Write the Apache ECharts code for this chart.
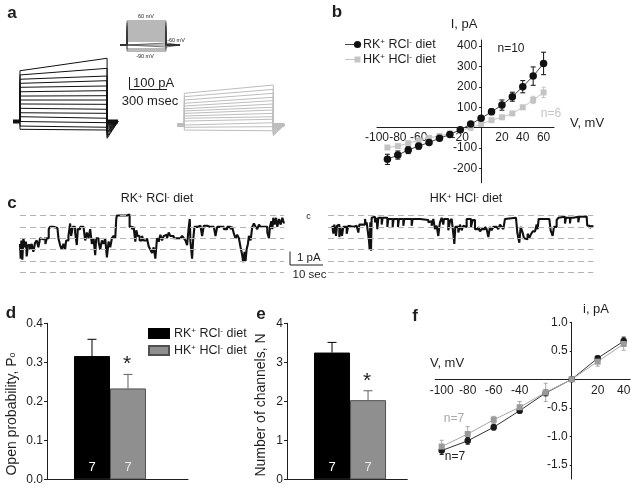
<!DOCTYPE html>
<html>
<head>
<meta charset="utf-8">
<script src="https://cdn.jsdelivr.net/npm/echarts@6/dist/echarts.min.js"></script>
<style>
html,body{margin:0;padding:0;background:#fff}
#fig{width:636px;height:488px}
</style>
</head>
<body>
<div id="fig"></div>
<script>
// ---- a: whole-cell current families, pA relative to holding (-60 mV)
var aStepTimes = [-64, 0, 800, 900];          // ms: holding, step on, step off, tail end
var aRKStart = [423,388,352,318,285,248,212,179,146,110,73,40,-2,-38,-65];
var aRKEnd   = [527,443,379,340,296,257,215,179,143,102,68,27,-10,-48,-71];
var aRKTail  = [-140,-125,-110,-95,-85,-72,-62,-52,-42,-34,-26,-18,-12,-8,-5];
var aHKStart = [264,236,208,181,158,136,117,97,75,56,33,8,-19,-42];
var aHKEnd   = [333,297,264,231,203,175,148,125,97,69,48,19,-14,-48];
var aHKTail  = [-90,-80,-70,-62,-55,-48,-40,-34,-28,-22,-16,-10,-6,-4];
// voltage protocol (mV), relative step duration
var protocolMv = [-90,-80,-70,-60,-50,-40,-30,-20,-10,0,10,20,30,40,50,60];
var protocolHold = -60;
var protocolTimes = [-0.18, 0, 1, 1.36];

// ---- b: I-V, pA
var bVoltage = [-90,-80,-70,-60,-50,-40,-30,-20,-10,0,10,20,30,40,50,60];
var bRK    = [-155,-134,-109,-90,-72,-52,-33,-10,18,46,78,111,152,201,253,315];
var bRKerr = [25,20,18,15,10,8,8,5,5,8,14,25,22,30,45,55];
var bHK    = [-97,-90,-76,-62,-50,-40,-28,-12,0,18,37,51,70,100,136,173];
var bHKerr = [8,8,8,7,6,6,5,5,5,5,6,8,8,10,18,25];
var bXTicks = [-100,-80,-60,-20,20,40,60];
var bYTicks = [-200,-100,100,200,300,400];

// ---- c: single channel traces, [time (1/12 s), level in open-channel units]
var cLevels = [0,-1,-2,-3,-4,-5];
var cTraceRK = [[60,-2.5],[62,-3.8],[64,-2.2],[67,-3.9],[70,-2.0],[75,-2.8],[78,-2.3],[80,-3.6],[84,-2.6],[90,-3.0],[95,-2.5],[100,-3.2],[105,-2.4],[110,-2.2],[115,-2.8],[120,-2.0],[125,-2.1],[130,-2.0],[136,-2.5],[140,-2.0],[146,-1.2],[150,-1.0],[160,-1.1],[172,-1.0],[175,-2.0],[180,-2.6],[185,-3.0],[190,-2.5],[195,-3.0],[198,-2.2],[205,-1.8],[210,-0.7],[213,-1.8],[218,-1.0],[225,-1.5],[230,-2.6],[233,-1.2],[240,-1.0],[250,-1.0],[255,-2.2],[260,-1.5],[265,-2.0],[270,-1.2],[275,-2.5],[280,-2.0],[285,-3.5],[288,-2.0],[295,-2.3],[300,-3.0],[305,-2.2],[310,-2.5],[315,-2.0],[320,-3.7],[325,-2.3],[330,-2.8],[335,-2.0],[340,-1.8],[345,-2.0],[348,-0.3],[350,0],[380,0],[385,0.1],[388,-1.0],[395,-1.2],[400,-1.0],[405,-2.3],[408,-1.3],[412,-1.8],[418,-2.2],[425,-1.8],[430,-2.2],[440,-2.0],[445,-2.7],[450,-3.0],[455,-3.3],[460,-2.8],[465,-3.8],[470,-2.0],[475,-2.3],[480,-1.7],[485,-2.2],[490,-1.8],[495,-1.7],[500,-2.0],[505,-1.5],[510,-1.8],[520,-2.0],[530,-2.0],[540,-2.1],[545,-1.8],[550,-2.0],[555,-2.2],[560,-2.6],[565,-1.0],[568,-0.3],[570,-2.3],[575,-3.8],[578,-2.2],[582,-1.0],[590,-0.9],[600,-1.0],[605,-1.8],[610,-0.9],[620,-1.0],[630,-1.0],[640,-1.0],[645,-1.8],[650,-1.0],[660,-1.0],[670,-1.2],[680,-1.0],[690,-1.2],[695,-1.0],[700,-1.6],[705,-2.0],[710,-1.7],[715,-2.0],[720,-2.8],[725,-3.5],[728,-4.1],[732,-3.2],[735,-4.0],[738,-3.0],[742,-2.5],[745,-1.8],[750,-2.2],[755,-1.0],[760,-0.7],[765,-1.0],[770,-1.2],[775,-0.8],[780,-1.0],[790,-1.0],[800,-1.5],[805,-2.0],[808,-1.0],[812,-0.5],[815,-1.2],[818,-0.2],[822,-0.8],[826,-0.2],[830,-1.0],[835,-0.3],[840,-0.8],[845,-0.2],[850,-0.7]];
var cTraceHK = [[97,-0.9],[100,-1.6],[103,-0.8],[108,-1.8],[111,-0.9],[115,-0.8],[118,-1.9],[121,-1.0],[126,-1.8],[130,-1.0],[135,-1.0],[140,-1.6],[145,-0.9],[150,-1.0],[160,-0.9],[170,-0.8],[175,-1.5],[178,-0.8],[185,-0.7],[190,-0.8],[195,-0.3],[198,-0.8],[200,-0.6],[205,-0.5],[207,-2.2],[209,-3.0],[211,-0.6],[213,-3.1],[215,-0.2],[220,-0.1],[225,-0.6],[230,-0.2],[232,-1.2],[235,-0.2],[245,-0.8],[248,-0.2],[262,-1.0],[265,-0.3],[278,-1.0],[281,-0.3],[294,-1.0],[297,-0.3],[310,-0.9],[313,-0.3],[335,-0.9],[338,-0.3],[360,-0.4],[385,-0.6],[390,-0.5],[395,-0.9],[400,-0.3],[405,-1.2],[410,-0.9],[415,-1.8],[418,-1.0],[420,-0.6],[425,-0.2],[430,-0.8],[432,-0.3],[445,-1.3],[450,-0.5],[455,-0.3],[460,-1.6],[463,-2.5],[466,-1.0],[475,-1.5],[480,-0.8],[485,-1.3],[490,-0.9],[495,-1.0],[500,-0.3],[513,-1.0],[518,-0.4],[525,-1.2],[535,-1.0],[540,-1.4],[545,-1.2],[555,-1.0],[560,-1.2],[565,-1.9],[570,-1.0],[575,-1.3],[580,-1.0],[590,-1.0],[595,-1.2],[600,-0.8],[605,-1.0],[610,-1.2],[615,-0.3],[620,-0.2],[648,-0.3],[652,-1.5],[658,-2.4],[662,-1.0],[668,-1.5],[672,-2.0],[678,-2.1],[683,-1.6],[688,-2.0],[692,-1.7],[698,-1.4],[705,-1.5],[710,-0.8],[713,-1.2],[716,-0.3],[748,-0.3],[752,-1.3],[758,-1.8],[762,-1.0],[770,-0.4],[775,-0.2],[780,-0.1],[795,-0.7],[798,-0.2],[810,-0.7],[812,-0.2],[820,-0.1],[835,-0.6],[838,-0.1],[860,-0.2],[862,-0.9],[870,-1.1],[875,-0.9],[880,-1.0]];

// ---- d, e: bar summaries
var barSlots = [1, 2];
var dPo = [0.316, 0.233];
var dPoErr = [0.043, 0.036];
var eN = [3.25, 2.03];
var eNErr = [0.26, 0.24];
var nCells = [7, 7];

// ---- f: single channel i-V, pA
var fVoltage = [-100,-80,-60,-40,-20,0,20,40];
var fRK    = [-1.25,-1.08,-0.84,-0.55,-0.24,0,0.37,0.67];
var fRKerr = [0.07,0.06,0.05,0.04,0.05,0.02,0.04,0.07];
var fHK    = [-1.18,-0.96,-0.71,-0.49,-0.23,0,0.31,0.62];
var fHKerr = [0.11,0.13,0.06,0.1,0.16,0.02,0.08,0.11];
var fXTicks = [-100,-80,-60,-40,20,40];
var fYTicks = [-1.5,-1,-0.5,0.5,1];

var FONT = "'Liberation Sans', Arial, sans-serif";
var INK = '#1e1e1e';
var LIGHT = '#c4c4c4';
var BARGRAY = '#8f8f8f';

var grids = [
  {left: 13, top: 55.5, width: 105, height: 90},        // a RK family
  {left: 177.2, top: 59, width: 107.2, height: 90},     // a HK family
  {left: 120, top: 21, width: 60, height: 30},          // a protocol
  {left: 377, top: 40, width: 177, height: 142.8},      // b
  {left: 20, top: 211, width: 264, height: 65.8},       // c RK
  {left: 328, top: 211, width: 265.3, height: 65.8},    // c HK
  {left: 47, top: 323.3, width: 141, height: 156},      // d
  {left: 287, top: 323.3, width: 120.3, height: 156},   // e
  {left: 435.2, top: 322.3, width: 195, height: 156.75} // f
];

var chart = echarts.init(document.getElementById('fig'));

function diet(k, cl) {
  return '{n|' + k + '}{s|+}{n| ' + cl + '}{s|-}{n| diet}';
}
function dietRich(size, color) {
  return {
    n: {fontSize: size, fontFamily: FONT, color: color, fill: color},
    s: {fontSize: Math.round(size * 0.62), fontFamily: FONT, color: color, fill: color, verticalAlign: 'top'}
  };
}

function hidden(gi, min, max) {
  return {gridIndex: gi, type: 'value', min: min, max: max, show: false};
}
function shownAxis(gi, min, max, extra) {
  var ax = {
    gridIndex: gi, type: 'value', min: min, max: max,
    axisLine: {show: true, onZero: false, lineStyle: {color: INK, width: 1}},
    axisTick: {show: false},
    splitLine: {show: false},
    axisLabel: {color: INK, fontSize: 12, fontFamily: FONT, margin: 4}
  };
  for (var k in extra) ax[k] = extra[k];
  return ax;
}
// crossing axes: shift the axis from the grid edge to the other axis' zero
function xOffsetToZero(gi, ymin, ymax) {
  return -grids[gi].height * (0 - ymin) / (ymax - ymin);
}
function yOffsetToZero(gi, xmin, xmax) {
  return -grids[gi].width * (0 - xmin) / (xmax - xmin);
}

function errBars(gi, xs, lo, hi, color, cap, bottomCap) {
  return {
    type: 'custom', xAxisIndex: gi, yAxisIndex: gi, silent: true, z: 3, clip: false,
    data: xs.map(function (x, i) { return [x, lo[i], hi[i]]; }),
    renderItem: function (params, api) {
      var p1 = api.coord([api.value(0), api.value(1)]);
      var p2 = api.coord([api.value(0), api.value(2)]);
      var h = cap / 2;
      var st = {stroke: color, lineWidth: 1};
      var kids = [
        {type: 'line', shape: {x1: p1[0], y1: p1[1], x2: p2[0], y2: p2[1]}, style: st},
        {type: 'line', shape: {x1: p2[0] - h, y1: p2[1], x2: p2[0] + h, y2: p2[1]}, style: st}
      ];
      if (bottomCap) kids.push({type: 'line', shape: {x1: p1[0] - h, y1: p1[1], x2: p1[0] + h, y2: p1[1]}, style: st});
      return {type: 'group', children: kids};
    }
  };
}
function minus(v, e) { return v.map(function (x, i) { return x - e[i]; }); }
function plus(v, e) { return v.map(function (x, i) { return x + e[i]; }); }

// current family traces
function family(starts, ends, tails, color, gi) {
  var out = starts.map(function (s, i) {
    return {
      type: 'line', xAxisIndex: gi, yAxisIndex: gi, symbol: 'none', silent: true, clip: false,
      lineStyle: {color: color, width: 1},
      data: [[aStepTimes[0], 0], [aStepTimes[1], 0], [aStepTimes[1], s],
             [aStepTimes[2], ends[i]], [aStepTimes[2], tails[i]], [aStepTimes[3], 0]]
    };
  });
  [[aStepTimes[0], aStepTimes[1]], [aStepTimes[2], aStepTimes[3]]].forEach(function (seg) {
    out.push({
      type: 'line', xAxisIndex: gi, yAxisIndex: gi, symbol: 'none', silent: true, clip: false,
      lineStyle: {color: color, width: 4},
      data: [[seg[0], 0], [seg[1], 0]]
    });
  });
  return out;
}

var series = [];
series = series.concat(family(aRKStart, aRKEnd, aRKTail, '#111', 0));
series = series.concat(family(aHKStart, aHKEnd, aHKTail, '#bdbdbd', 1));
protocolMv.forEach(function (v) {
  series.push({
    type: 'line', xAxisIndex: 2, yAxisIndex: 2, symbol: 'none', silent: true, clip: false,
    lineStyle: {color: '#333', width: 0.7},
    data: [[protocolTimes[0], protocolHold], [protocolTimes[1], protocolHold], [protocolTimes[1], v],
           [protocolTimes[2], v], [protocolTimes[2], protocolHold], [protocolTimes[3], protocolHold]]
  });
});

// b
series.push(errBars(3, bVoltage, minus(bHK, bHKerr), plus(bHK, bHKerr), LIGHT, 4, true));
series.push({
  type: 'line', name: 'bHK', xAxisIndex: 3, yAxisIndex: 3, symbol: 'rect', symbolSize: 6,
  itemStyle: {color: LIGHT}, lineStyle: {color: LIGHT, width: 1},
  data: bVoltage.map(function (v, i) { return [v, bHK[i]]; })
});
series.push(errBars(3, bVoltage, minus(bRK, bRKerr), plus(bRK, bRKerr), '#111', 5, true));
series.push({
  type: 'line', name: 'bRK', xAxisIndex: 3, yAxisIndex: 3, symbol: 'circle', symbolSize: 7.5,
  itemStyle: {color: '#111'}, lineStyle: {color: '#444', width: 1},
  data: bVoltage.map(function (v, i) { return [v, bRK[i]]; })
});

// c
[[4, cTraceRK], [5, cTraceHK]].forEach(function (c) {
  series.push({
    type: 'line', xAxisIndex: c[0], yAxisIndex: c[0], data: [], silent: true, z: 1,
    markLine: {
      silent: true, symbol: 'none', label: {show: false},
      lineStyle: {color: '#b3b3b3', type: [6, 4], width: 1.2},
      data: cLevels.map(function (v) { return {yAxis: v}; })
    }
  });
  series.push({
    type: 'line', xAxisIndex: c[0], yAxisIndex: c[0], data: c[1], step: 'end', symbol: 'none',
    silent: true, clip: false, z: 2, lineStyle: {color: '#111', width: 2.1}
  });
});

// d, e
function bars(gi, vals, errs, withName) {
  var cols = ['#000', BARGRAY];
  var borders = ['#000', '#505050'];
  var labCols = ['#fff', '#e8e8e8'];
  var names = ['dRK', 'dHK'];
  var out = [];
  vals.forEach(function (v, i) {
    out.push({
      type: 'bar', name: withName ? names[i] : undefined, xAxisIndex: gi, yAxisIndex: gi,
      barWidth: 36, barGap: '-100%',
      itemStyle: {color: cols[i], borderColor: borders[i], borderWidth: 1},
      label: {show: true, position: 'insideBottom', distance: 5, color: labCols[i], fontSize: 13,
              fontFamily: FONT, formatter: String(nCells[i])},
      data: [[barSlots[i], v]]
    });
  });
  out.push(errBars(gi, [barSlots[0]], [vals[0]], [vals[0] + errs[0]], '#000', 9, false));
  out.push(errBars(gi, [barSlots[1]], [vals[1]], [vals[1] + errs[1]], '#606060', 9, false));
  return out;
}
series = series.concat(bars(6, dPo, dPoErr, true));
series = series.concat(bars(7, eN, eNErr, false));

// f
series.push(errBars(8, fVoltage, minus(fHK, fHKerr), plus(fHK, fHKerr), '#a8a8a8', 4, true));
series.push(errBars(8, fVoltage, minus(fRK, fRKerr), plus(fRK, fRKerr), '#222', 4, true));
series.push({
  type: 'line', xAxisIndex: 8, yAxisIndex: 8, symbol: 'circle', symbolSize: 6.5,
  itemStyle: {color: '#1a1a1a'}, lineStyle: {color: '#333', width: 1},
  data: fVoltage.map(function (v, i) { return [v, fRK[i]]; })
});
series.push({
  type: 'line', xAxisIndex: 8, yAxisIndex: 8, symbol: 'rect', symbolSize: 6,
  itemStyle: {color: '#9a9a9a'}, lineStyle: {color: '#a8a8a8', width: 1},
  data: fVoltage.map(function (v, i) { return [v, fHK[i]]; })
});

function txt(x, y, text, size, o) {
  o = o || {};
  return {
    type: 'text', x: x, y: y, rotation: o.rot || 0, silent: true, z: 10,
    style: {
      text: text, fontSize: size, fontFamily: FONT, fontWeight: o.bold ? 'bold' : 'normal',
      fill: o.color || INK, align: o.align || 'center', verticalAlign: 'middle', rich: o.rich
    }
  };
}
function seg(x1, y1, x2, y2, color, w) {
  return {type: 'line', silent: true, z: 10, shape: {x1: x1, y1: y1, x2: x2, y2: y2},
          style: {stroke: color || INK, lineWidth: w || 1}};
}

var graphics = [
  // panel letters
  txt(12, 13, 'a', 17, {bold: true}),
  txt(337, 12, 'b', 17, {bold: true}),
  txt(12, 203, 'c', 17, {bold: true}),
  txt(11, 313, 'd', 17, {bold: true}),
  txt(261, 314, 'e', 17, {bold: true}),
  txt(415, 316, 'f', 17, {bold: true}),
  // a: protocol labels and scale bar
  txt(146, 16, '60 mV', 5.5),
  txt(176, 40.7, '-60 mV', 5.5),
  txt(145, 56.7, '-90 mV', 5.5),
  seg(129.5, 77, 129.5, 89.5), seg(129.5, 89.5, 167, 89.5),
  txt(133, 83.5, '100 pA', 13, {align: 'left'}),
  txt(150, 101, '300 msec', 13),
  // b: axis names, n, legend
  txt(464, 24, 'I, pA', 13),
  txt(587, 123, 'V, mV', 13),
  txt(511, 49, 'n=10', 12),
  txt(551, 114, 'n=6', 12, {color: LIGHT}),
  seg(345, 44.5, 357, 44.5, '#444'),
  {type: 'circle', silent: true, z: 10, shape: {cx: 357.5, cy: 44.5, r: 3.6}, style: {fill: '#111'}},
  txt(363, 44.5, diet('RK', 'RCl'), 12.5, {align: 'left', rich: dietRich(12.5, INK)}),
  seg(345, 59.5, 357, 59.5, LIGHT),
  {type: 'rect', silent: true, z: 10, shape: {x: 354.5, y: 56.5, width: 6, height: 6}, style: {fill: LIGHT}},
  txt(363, 59.5, diet('HK', 'HCl'), 12.5, {align: 'left', rich: dietRich(12.5, INK)}),
  // c: titles, closed mark, scale bar
  txt(157, 199, diet('RK', 'RCl'), 12.5, {rich: dietRich(12.5, INK)}),
  txt(466, 199, diet('HK', 'HCl'), 12.5, {rich: dietRich(12.5, INK)}),
  txt(308.5, 216.5, 'c', 9),
  seg(290, 251.5, 290, 265), seg(290, 265, 323, 265),
  txt(297, 258, '1 pA', 11.5, {align: 'left'}),
  txt(309.5, 274.5, '10 sec', 11.5),
  // d, e
  txt(12.5, 414, '{n|Open probability, P}{b|o}', 14, {rot: Math.PI / 2,
      rich: {n: {fontSize: 14, fontFamily: FONT, fill: INK}, b: {fontSize: 9, fontFamily: FONT, fill: INK}}}),
  txt(261, 405, 'Number of channels, N', 14, {rot: Math.PI / 2}),
  txt(127, 364, '*', 21),
  txt(367, 381, '*', 21),
  // f
  txt(596, 309, 'i, pA', 13),
  txt(447, 363, 'V, mV', 13),
  txt(454, 419, 'n=7', 12, {color: '#a8a8a8'}),
  txt(455, 457, 'n=7', 12)
];

var bX = [-100, 70], bY = [-270, 430];
var fX = [-105, 45], fY = [-1.75, 1.0];

var option = {
  animation: false,
  backgroundColor: '#fff',
  textStyle: {fontFamily: FONT},
  grid: grids.map(function (g) {
    return {left: g.left, top: g.top, width: g.width, height: g.height, containLabel: false, outerBoundsMode: 'none'};
  }),
  xAxis: [
    hidden(0, -64, 900), hidden(1, -64, 900), hidden(2, -0.18, 1.36),
    shownAxis(3, bX[0], bX[1], {
      offset: xOffsetToZero(3, bY[0], bY[1]),
      axisLabel: {color: INK, fontSize: 12, fontFamily: FONT, margin: 4, customValues: bXTicks}
    }),
    hidden(4, 60, 850), hidden(5, 84, 880),
    shownAxis(6, -0.25, 3.667, {axisLabel: {show: false}}),
    shownAxis(7, -0.25, 3.09, {axisLabel: {show: false}}),
    shownAxis(8, fX[0], fX[1], {
      offset: xOffsetToZero(8, fY[0], fY[1]),
      axisLabel: {color: INK, fontSize: 12, fontFamily: FONT, margin: 5, customValues: fXTicks}
    })
  ],
  yAxis: [
    hidden(0, -200, 550), hidden(1, -200, 550), hidden(2, -90, 60),
    shownAxis(3, bY[0], bY[1], {
      offset: yOffsetToZero(3, bX[0], bX[1]),
      axisTick: {show: true, length: 2, customValues: bYTicks, lineStyle: {color: INK}},
      axisLabel: {color: INK, fontSize: 12, fontFamily: FONT, margin: 4, customValues: bYTicks}
    }),
    hidden(4, -5.4, 0.4), hidden(5, -5.4, 0.4),
    shownAxis(6, 0, 0.4, {
      interval: 0.1,
      axisTick: {show: true, length: 3, lineStyle: {color: INK}},
      axisLabel: {color: INK, fontSize: 12, fontFamily: FONT, margin: 4,
                  formatter: function (v) { return v.toFixed(1); }}
    }),
    shownAxis(7, 0, 4, {
      interval: 1,
      axisTick: {show: true, length: 3, lineStyle: {color: INK}},
      axisLabel: {color: INK, fontSize: 12, fontFamily: FONT, margin: 4}
    }),
    shownAxis(8, fY[0], fY[1], {
      offset: yOffsetToZero(8, fX[0], fX[1]),
      axisTick: {show: true, length: 2, customValues: fYTicks, lineStyle: {color: INK}},
      axisLabel: {color: INK, fontSize: 12, fontFamily: FONT, margin: 4, customValues: fYTicks,
                  formatter: function (v) { return v.toFixed(1); }}
    })
  ],
  legend: [{
    left: 148, top: 327, orient: 'vertical', icon: 'rect',
    itemWidth: 20, itemHeight: 9, itemGap: 4, padding: 0,
    data: ['dRK', 'dHK'], selectedMode: false,
    formatter: function (name) { return name === 'dRK' ? diet('RK', 'RCl') : diet('HK', 'HCl'); },
    textStyle: {rich: dietRich(12.5, INK)}
  }],
  series: series,
  graphic: {elements: graphics}
};
chart.setOption(option);
</script>
</body>
</html>
